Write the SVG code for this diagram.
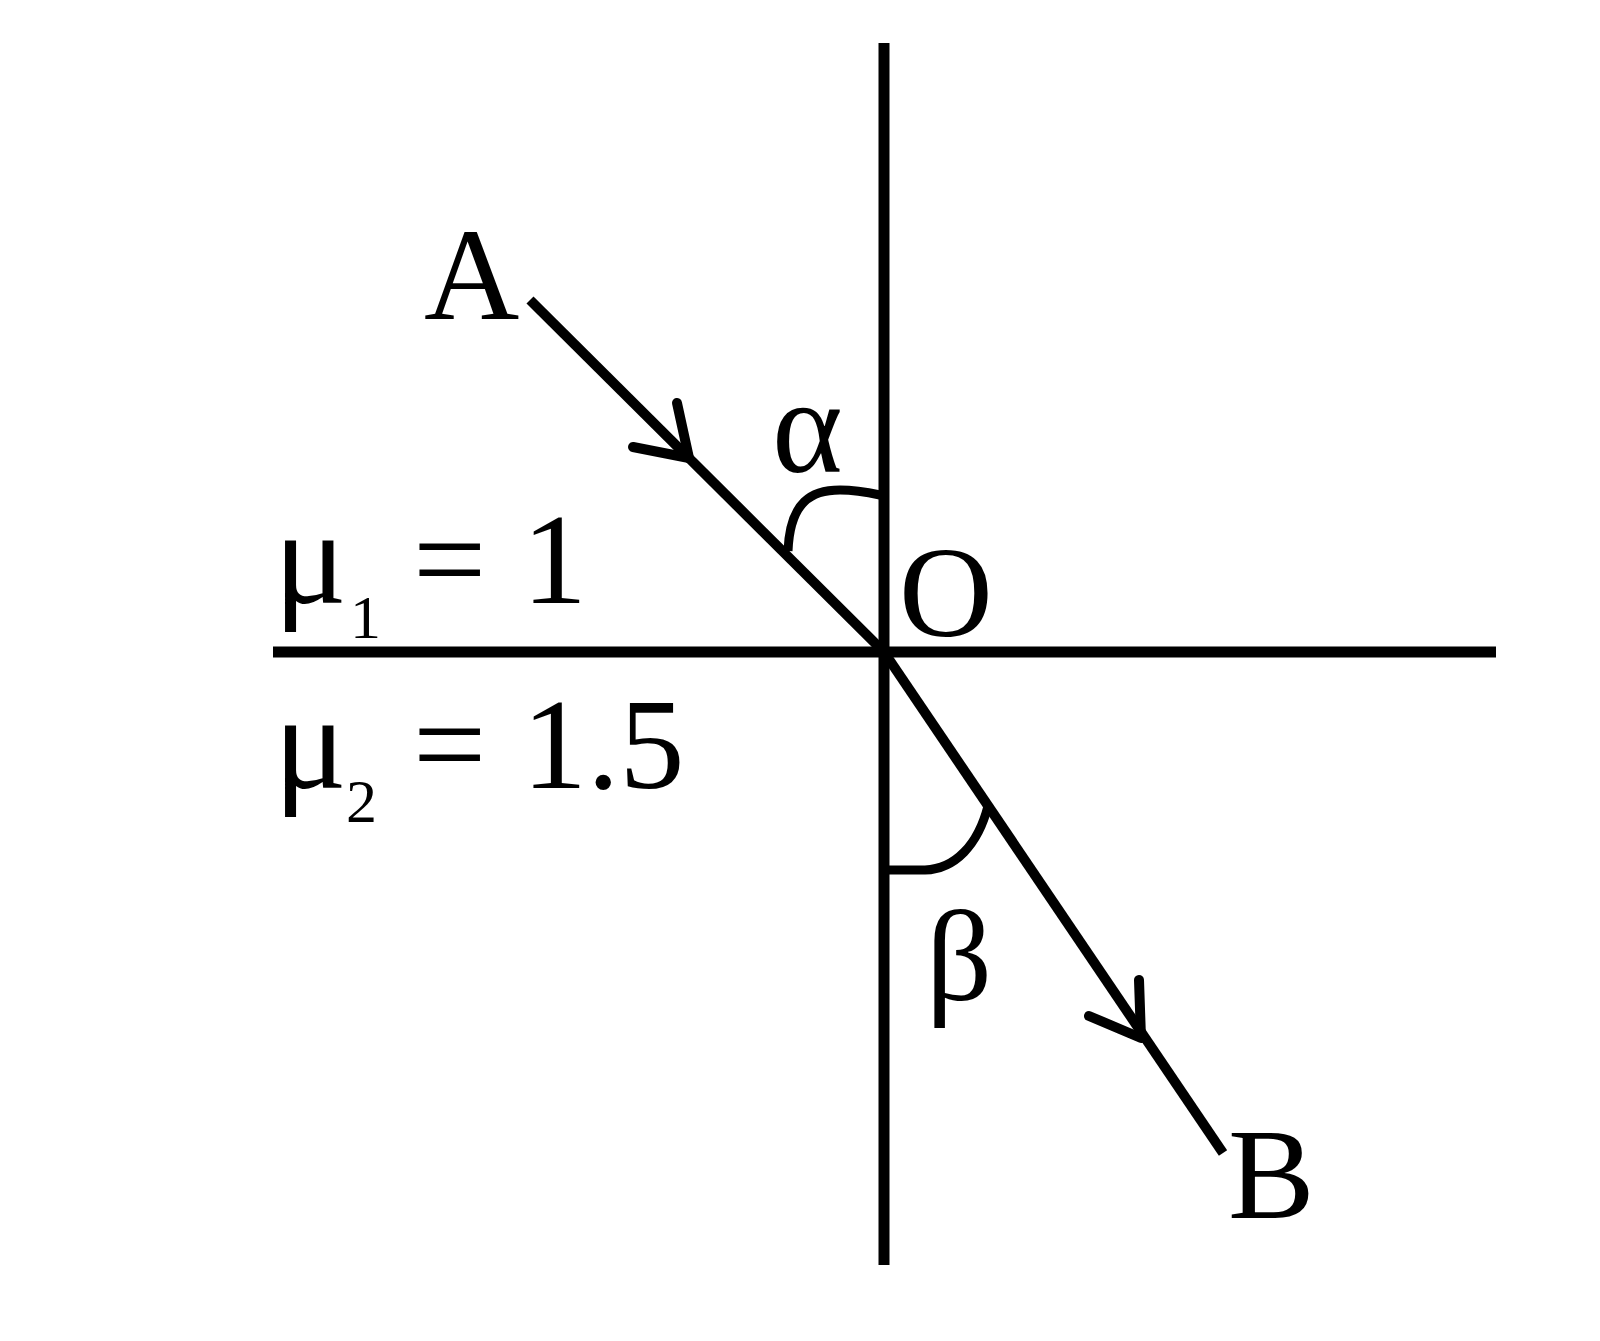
<svg xmlns="http://www.w3.org/2000/svg" width="1600" height="1341" viewBox="0 0 1600 1341">
<style>
.ln{stroke:#000;stroke-width:11;fill:none;stroke-linecap:butt}
.ray{stroke:#000;stroke-width:10;fill:none;stroke-linecap:butt}
.arr{stroke:#000;stroke-width:10;fill:none;stroke-linecap:round;stroke-linejoin:round}
.arc{stroke:#000;stroke-width:9;fill:none;stroke-linecap:butt}
.t{font-family:"Liberation Serif","Times New Roman",serif;fill:#000}
</style>
<rect width="1600" height="1341" fill="#fff"/>
<g id="interface">
<line class="ln" x1="884" y1="43" x2="884" y2="1265"/>
<line class="ln" x1="273" y1="652" x2="1496" y2="652"/>
</g>
<g id="connectors">
<line class="ray" x1="530" y1="300" x2="884" y2="652"/>
<polyline class="arr" points="633,447 689,458 677,403"/>
<line class="ray" x1="884" y1="652" x2="1223" y2="1153"/>
<polyline class="arr" points="1089,1016 1141,1038 1139,980"/>
</g>
<g id="angle-alpha">
<path class="arc" d="M 880 495 C 866 492, 852 490, 840 490 C 812 490, 790 501, 788 551"/>
<text class="t" x="772" y="472" font-size="135">α</text>
</g>
<g id="angle-beta">
<path class="arc" d="M 889 870 L 925 870 C 955 869, 978 845, 988 806"/>
<text class="t" x="926" y="1000" font-size="130">β</text>
</g>
<g id="label-A"><text class="t" x="424" y="319" font-size="132">A</text></g>
<g id="label-B"><text class="t" x="1228" y="1218" font-size="130">B</text></g>
<g id="label-O"><text class="t" x="899" y="636" font-size="130">O</text></g>
<g id="medium-1">
<text class="t" x="274" y="603" font-size="136">μ</text>
<text class="t" x="350" y="638" font-size="62">1</text>
<text class="t" x="413" y="603" font-size="130">=</text>
<text class="t" x="522" y="603" font-size="130">1</text>
</g>
<g id="medium-2">
<text class="t" x="274" y="788" font-size="136">μ</text>
<text class="t" x="346" y="822" font-size="62">2</text>
<text class="t" x="413" y="788" font-size="130">=</text>
<text class="t" x="522" y="788" font-size="130">1.5</text>
</g>
</svg>
